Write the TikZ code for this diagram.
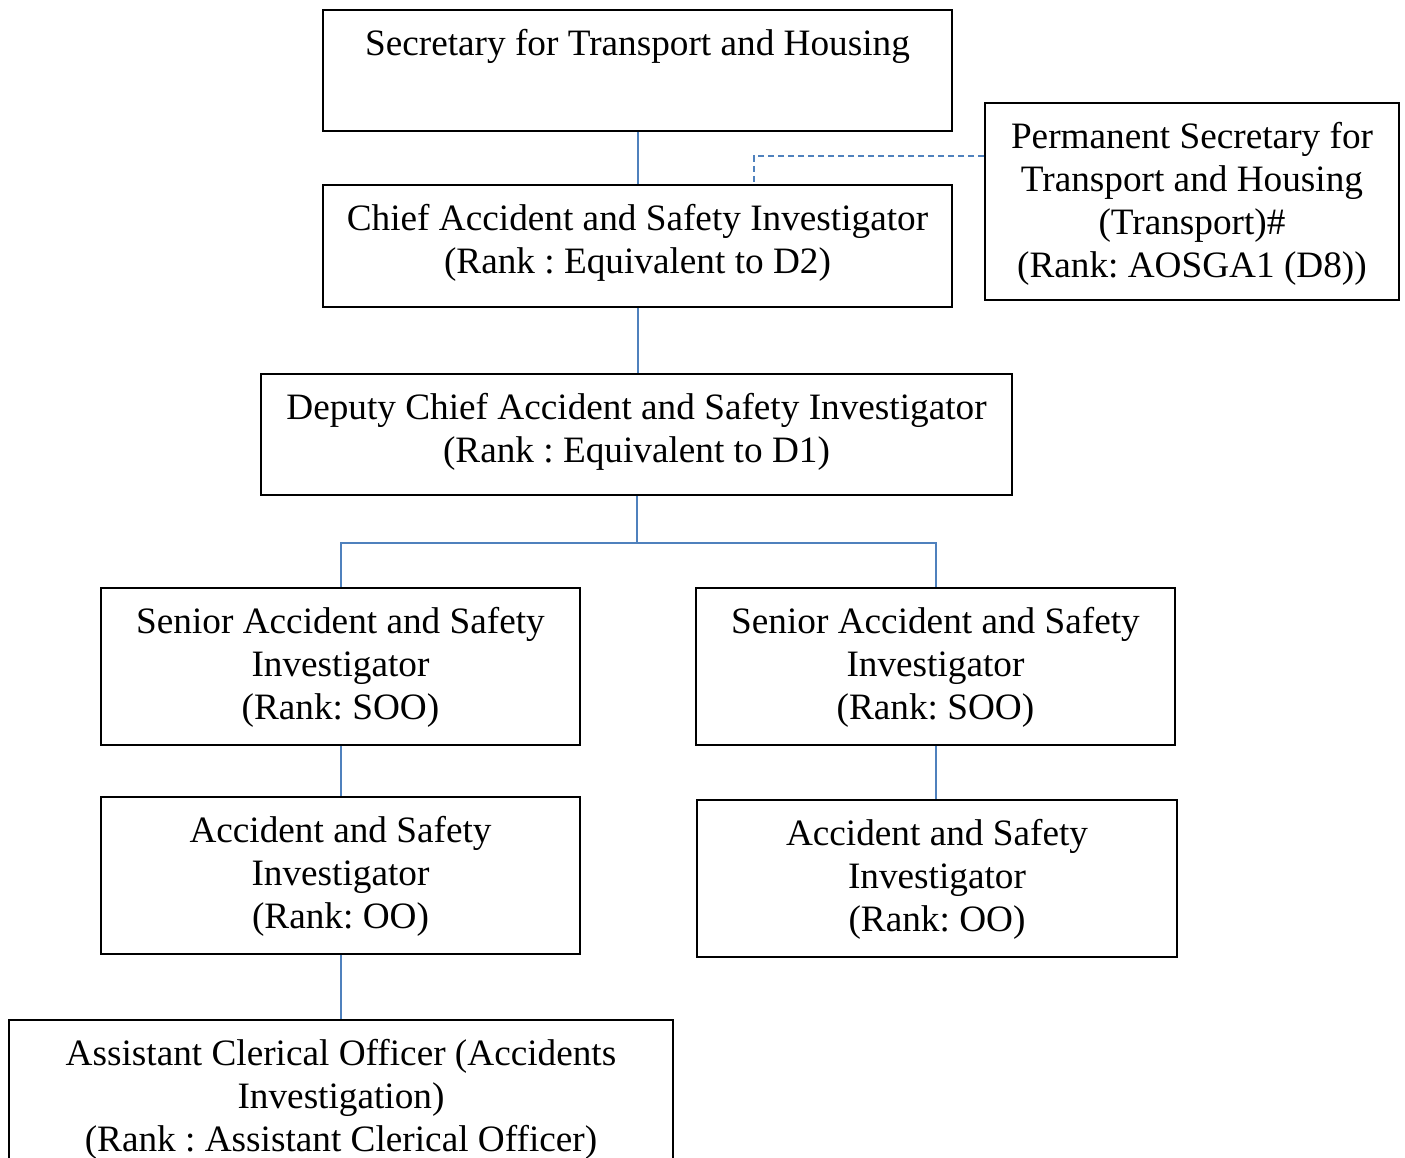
\documentclass[tikz,border=0pt]{standalone}
\usepackage{fontspec}
\setmainfont{Liberation Serif}
\usetikzlibrary{positioning}
\frenchspacing
\definecolor{linkblue}{RGB}{79,129,189}
\tikzstyle{post} = [rectangle, draw=black, line width=0.4mm, fill=white]
\tikzstyle{posttext} = [anchor=north, yshift=-0.4cm, align=center, inner sep=0pt,
                        font=\fontsize{21.2}{24.5}\selectfont]
\tikzstyle{link} = [draw=linkblue, line width=0.4mm]
\tikzstyle{dashlink} = [link, dash pattern=on 0.12cm off 0.08cm]

\begin{document}
\begin{tikzpicture}[x=0.02cm, y=-0.02cm]
        \clip (0,0) rectangle (1405,1158);
        \fill [white] (0,0) rectangle (1405,1158);

        % boxes
        \node (sec) [post, minimum width=12.58cm, minimum height=2.42cm] at (637.5,70.5) {};
        \node (chief) [post, minimum width=12.58cm, minimum height=2.44cm] at (637.5,246) {};
        \node (perm) [post, minimum width=8.28cm, minimum height=3.94cm] at (1192,201.5) {};
        \node (deputy) [post, minimum width=15.02cm, minimum height=2.42cm] at (636.5,434.5) {};
        \node (soL) [post, minimum width=9.58cm, minimum height=3.14cm] at (340.5,666.5) {};
        \node (soR) [post, minimum width=9.58cm, minimum height=3.14cm] at (935.5,666.5) {};
        \node (ooL) [post, minimum width=9.58cm, minimum height=3.14cm] at (340.5,875.5) {};
        \node (ooR) [post, minimum width=9.6cm, minimum height=3.14cm] at (937,878.5) {};
        \node (aco) [post, minimum width=13.28cm, minimum height=3.6cm] at (341,1110) {};

        % texts
        \node (sec-t) [posttext] at (sec.north) {Secretary for Transport and Housing};
        \node (chief-t) [posttext] at (chief.north) {Chief Accident and Safety Investigator\\(Rank : Equivalent to D2)};
        \node (perm-t) [posttext] at (perm.north) {Permanent Secretary for\\Transport and Housing\\(Transport)\#\\(Rank: AOSGA1 (D8))};
        \node (deputy-t) [posttext] at (deputy.north) {Deputy Chief Accident and Safety Investigator\\(Rank : Equivalent to D1)};
        \node (soL-t) [posttext] at (soL.north) {Senior Accident and Safety\\Investigator\\(Rank: SOO)};
        \node (soR-t) [posttext] at (soR.north) {Senior Accident and Safety\\Investigator\\(Rank: SOO)};
        \node (ooL-t) [posttext] at (ooL.north) {Accident and Safety\\Investigator\\(Rank: OO)};
        \node (ooR-t) [posttext] at (ooR.north) {Accident and Safety\\Investigator\\(Rank: OO)};
        \node (aco-t) [posttext] at (aco.north) {Assistant Clerical Officer (Accidents\\Investigation)\\(Rank : Assistant Clerical Officer)};

        % connectors
        \coordinate (bus) at (637,543);
        \coordinate (dashy) at (0,156);
        \coordinate (dashx) at (754,0);
        \draw [link] (sec.south) -- (chief.north);
        \draw [link] (chief.south) -- (chief.south |- deputy.north);
        \draw [link] (deputy.south -| bus) -- (bus);
        \draw [link] (soL.north) |- (bus) -| (soR.north);
        \draw [link] (soL.south) -- (ooL.north);
        \draw [link] (soR.south) -- (soR.south |- ooR.north);
        \draw [link] (ooL.south) -- (ooL.south |- aco.north);
        \draw [dashlink] (perm.west |- dashy) -| (dashx |- chief.north);

\end{tikzpicture}
\end{document}
